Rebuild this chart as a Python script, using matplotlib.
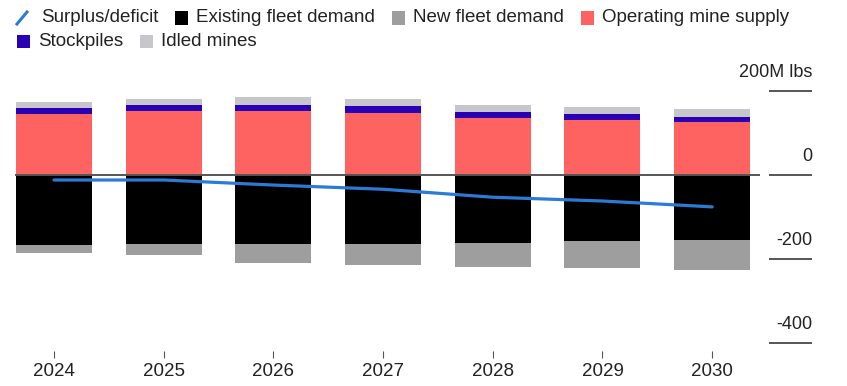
import numpy as np
import matplotlib.pyplot as plt
from matplotlib.patches import Rectangle
from matplotlib.lines import Line2D

plt.rcParams['font.family'] = ['Liberation Sans', 'DejaVu Sans']

years = ['2024', '2025', '2026', '2027', '2028', '2029', '2030']
operating = [144, 152, 152, 147, 134, 130, 124]
stockpiles = [14, 14, 14, 16, 14, 14, 14]
idled = [14, 14, 18, 17, 17, 17, 18]
existing_demand = [-168, -166, -166, -166, -162, -158, -156]
new_demand = [-20, -26, -44, -50, -57, -65, -71]
surplus = [-13, -13, -25, -35, -54, -63, -77]

c_oper = '#ff6361'
c_stock = '#2a00b4'
c_idle = '#c6c6cb'
c_exist = '#000000'
c_new = '#9e9e9e'
c_line = '#2b7bd6'
txt = '#222222'

W, H = 847, 386
fig = plt.figure(figsize=(W / 100, H / 100), dpi=100)
ax = fig.add_axes([15 / W, 0.0909, 797 / W, 0.718])

x = np.arange(len(years))
bw = 0.693
ax.bar(x, operating, bw, color=c_oper, zorder=2)
ax.bar(x, stockpiles, bw, bottom=operating, color=c_stock, zorder=2)
ax.bar(x, idled, bw, bottom=np.add(operating, stockpiles), color=c_idle, zorder=2)
ax.bar(x, existing_demand, bw, color=c_exist, zorder=2)
ax.bar(x, new_demand, bw, bottom=existing_demand, color=c_new, zorder=2)

# zero line across the bars
ax.plot([-0.36, 6.436], [0, 0], color='#555555', lw=1.4, zorder=3, solid_capstyle='butt')
ax.plot(x, surplus, color=c_line, lw=2.3, zorder=4, solid_capstyle='round')

# right-hand scale
for v, lab in [(200, '200M lbs'), (0, '0'), (-200, '-200'), (-400, '-400')]:
    ax.plot([6.52, 6.91], [v, v], color='#555555', lw=1.4, clip_on=False, solid_capstyle='butt')
    ax.annotate(lab, xy=(6.91, v), xytext=(0, 7), textcoords='offset points',
                ha='right', va='bottom', fontsize=13, color=txt, annotation_clip=False)

ax.set_xlim(-0.3555, 6.91)
ax.set_ylim(-420, 240)
ax.set_xticks(x)
ax.set_xticklabels(years, fontsize=13.5, color=txt)
ax.tick_params(axis='x', length=5, width=0.8, color='#555555', pad=4)
ax.set_yticks([])
for s in ax.spines.values():
    s.set_visible(False)

# legend, laid out as flowing rows
rows = [
    [('Surplus/deficit', 'line', c_line), ('Existing fleet demand', 'box', c_exist),
     ('New fleet demand', 'box', c_new), ('Operating mine supply', 'box', c_oper)],
    [('Stockpiles', 'box', c_stock), ('Idled mines', 'box', c_idle)],
]
renderer = fig.canvas.get_renderer()
yc = [18, 41]
for row, y in zip(rows, yc):
    px = 17
    for lab, kind, col in row:
        yf = (H - y) / H
        if kind == 'line':
            fig.add_artist(Line2D([px / W, (px + 10) / W], [(H - y - 6) / H, (H - y + 6) / H],
                                  transform=fig.transFigure, color=col, lw=2.2))
            tx = px + 24
        else:
            fig.add_artist(Rectangle((px / W, (H - y - 6.5) / H), 13 / W, 13 / H,
                                     transform=fig.transFigure, color=col, lw=0))
            tx = px + 21
        t = fig.text(tx / W, yf, lab, fontsize=13.5, color=txt, va='center', ha='left')
        bb = t.get_window_extent(renderer)
        px = tx + bb.width + 17

fig.savefig('out.png', dpi=100, facecolor='white')
